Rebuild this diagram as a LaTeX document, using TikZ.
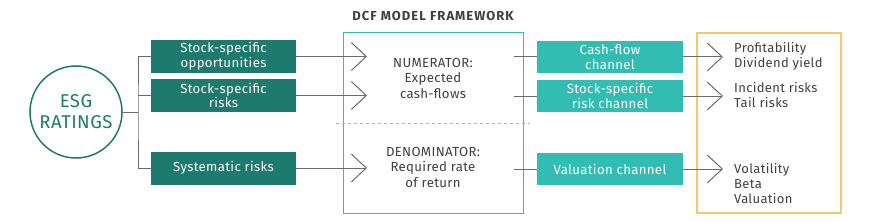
\documentclass[tikz,border=0pt]{standalone}
\usepackage{fontspec}
\setmainfont{Fira Sans}[LetterSpace=2.5]
\usetikzlibrary{arrows.meta}
\definecolor{dteal}{HTML}{1F7A6E}
\definecolor{lteal}{HTML}{33BDB2}
\definecolor{gold}{HTML}{F5C86E}
\definecolor{tgray}{HTML}{404040}
\definecolor{lgray}{HTML}{6B6B6B}
\tikzset{
  dbox/.style={fill=dteal, text=white, minimum width=145pt, minimum height=33pt, inner sep=0pt, align=center, font=\fontsize{13.2}{14.5}\selectfont},
  lbox/.style={fill=lteal, text=white, minimum width=146pt, minimum height=32pt, inner sep=0pt, align=center, font=\fontsize{13.2}{14.5}\selectfont},
  conn/.style={draw=lgray, line width=1pt},
  chev/.style={conn, -{Straight Barb[length=15pt,width=28pt,line width=1pt]}},
  txt/.style={text=tgray, align=center, inner sep=0pt, font=\fontsize{13.2}{15.5}\selectfont},
  rtxt/.style={text=tgray, align=left, anchor=west, inner sep=0pt, font=\fontsize{13}{15}\selectfont},
}
\begin{document}
\begin{tikzpicture}[x=1pt,y=-1pt]
\useasboundingbox (0,0) rectangle (870,222);
% title
\node[text=tgray, font=\addfontfeatures{LetterSpace=8}\bfseries\fontsize{13}{15}\selectfont] (title) at (433,16) {DCF MODEL FRAMEWORK};
% ESG circle
\node[circle, draw=dteal, line width=1.5pt, minimum size=92pt, inner sep=0pt, text=dteal, align=center, font=\fontsize{18.5}{21}\selectfont] (esg) at (76,112) {ESG\\RATINGS};
% dark boxes
\node[dbox] (d1) at (223.5,56.5) {Stock-specific\\opportunities};
\node[dbox] (d2) at (223.5,95.5) {Stock-specific\\risks};
\node[dbox] (d3) at (223.5,168) {Systematic risks};
% DCF frame
\node[draw=lteal, line width=1pt, minimum width=180pt, minimum height=180pt, inner sep=0pt] (dcf) at (433,123) {};
\coordinate (dl) at (336,123);
\coordinate (dr) at (530,123);
\draw[draw=lgray!50, line width=0.8pt, dash pattern=on 3pt off 3pt] (dl) -- (dr);
\node[txt] (num) at (433,78) {NUMERATOR:\\Expected\\cash-flows};
\node[txt] (den) at (433,167) {DENOMINATOR:\\Required rate\\of return};
% light boxes
\node[lbox] (l1) at (610,57) {Cash-flow\\channel};
\node[lbox] (l2) at (610,96) {Stock-specific\\risk channel};
\node[lbox] (l3) at (610,169) {Valuation channel};
% gold frame
\node[draw=gold, line width=1.2pt, minimum width=144pt, minimum height=180pt, inner sep=0pt] (out) at (769,123) {};
\node[rtxt] (r1) at (734,56.5) {Profitability\\Dividend yield};
\node[rtxt] (r2) at (734,95.5) {Incident risks\\Tail risks};
\node[rtxt] (r3) at (734,184) {Volatility\\Beta\\Valuation};
% bracket
\coordinate (bx) at (138,112);
\draw[conn] (esg.east) -- (bx);
\draw[conn] (d1.west) -| (bx) |- (d3.west);
\draw[conn] (d2.west) -- (d2.west -| bx);
% arrows into DCF
\coordinate (a1) at (367,56.5);
\coordinate (a2) at (367,95.5);
\coordinate (a3) at (367,168);
\draw[chev] (d1.east) -- (a1);
\draw[chev] (d2.east) -- (a2);
\draw[chev] (d3.east) -- (a3);
% from DCF to light boxes
\coordinate (b1) at (514,57);
\coordinate (b2) at (514,96);
\coordinate (b3) at (514,169);
\draw[conn] (b1) -- (l1.west);
\draw[conn] (b2) -- (l2.west);
\draw[conn] (b3) -- (l3.west);
% arrows into gold
\coordinate (c1) at (723,57);
\coordinate (c2) at (723,96);
\coordinate (c3) at (723,169);
\draw[chev] (l1.east) -- (c1);
\draw[chev] (l2.east) -- (c2);
\draw[chev] (l3.east) -- (c3);
\end{tikzpicture}
\end{document}
